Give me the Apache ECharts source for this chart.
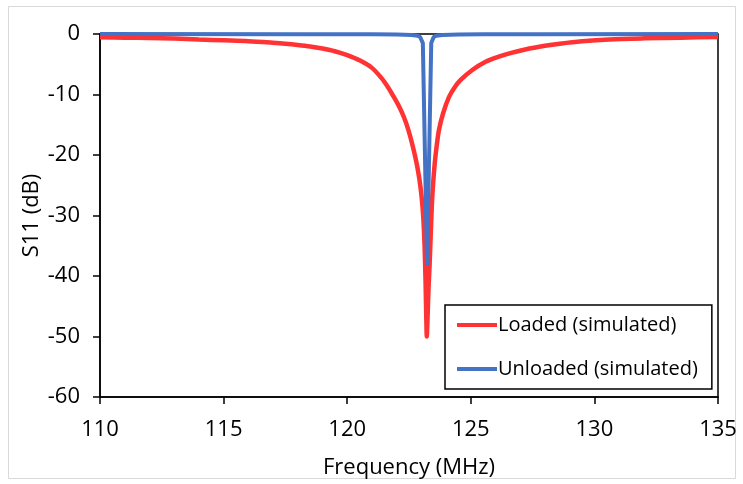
<!DOCTYPE html>
<html>
<head>
<meta charset="utf-8">
<script src="https://cdn.jsdelivr.net/npm/echarts@6/dist/echarts.min.js"></script>
<style>
html,body{margin:0;padding:0;background:#fff;}
#chart{width:743px;height:484px;}
</style>
</head>
<body>
<div id="chart"></div>
<script>
// Loaded (simulated)
const loadedFreq = [110,111,112,113,114,115,116,117,117.5,118,118.5,119,119.5,120,120.52,121,121.39,121.65,121.87,122.1,122.3,122.47,122.65,122.81,122.92,123.01,123.08,123.13,123.17,123.2,123.22,123.25,123.29,123.33,123.38,123.44,123.54,123.62,123.71,123.88,124.12,124.35,124.59,125.06,125.6,126.1,126.6,127.2,128,128.6,129.5,130.6,132,133.5,135];
const loadedS11 = [-0.55,-0.6,-0.65,-0.75,-0.9,-1.05,-1.2,-1.45,-1.6,-1.8,-2.05,-2.4,-2.85,-3.5,-4.4,-5.6,-7.3,-8.8,-10.3,-12.0,-13.8,-15.8,-18.5,-21.4,-24,-26.9,-30.5,-35,-41,-47,-50,-47,-42,-38.5,-33,-27,-21.4,-18.5,-15.9,-13.1,-10.4,-8.8,-7.6,-5.95,-4.6,-3.8,-3.15,-2.55,-1.95,-1.6,-1.2,-0.9,-0.72,-0.6,-0.5];
// Unloaded (simulated)
const unloadedFreq = [110,118,121,122,122.6,122.85,122.95,123.06,123.23,123.40,123.5,123.6,123.85,124.5,125.5,128,135];
const unloadedS11 = [-0.02,-0.03,-0.06,-0.1,-0.15,-0.3,-0.5,-1.5,-38.3,-1.5,-0.5,-0.3,-0.15,-0.1,-0.06,-0.03,-0.02];
const xTicks = {min:110, max:135, interval:5};
const yTicks = {min:-60, max:0, interval:10};
const seriesNames = ['Loaded (simulated)','Unloaded (simulated)'];

const pairs = (xs, ys) => xs.map((x,i)=>[x, ys[i]]);
const FONT = 'Open Sans';
const chart = echarts.init(document.getElementById('chart'), null, {renderer:'canvas'});
chart.setOption({
  animation:false,
  backgroundColor:'#fff',
  textStyle:{fontFamily:FONT},
  graphic:[{type:'rect', shape:{x:8.5,y:6.5,width:727,height:472}, style:{fill:'none', stroke:'#d9d9d9', lineWidth:1}, silent:true, z:-10}],
  grid:{left:100, right:25, top:34, bottom:87, show:true, borderColor:'#000', borderWidth:1.5, backgroundColor:'transparent'},
  legend:{
    orient:'vertical', left:445, top:305,
    data:seriesNames,
    icon:'rect', itemWidth:40, itemHeight:4, itemGap:24,
    padding:[10,14,10,12],
    borderColor:'#000', borderWidth:1.5, backgroundColor:'#fff',
    textStyle:{fontFamily:FONT, fontSize:20, color:'#000', padding:[0,0,0,-4]}
  },
  xAxis:{
    type:'value', min:xTicks.min, max:xTicks.max, interval:xTicks.interval,
    name:'Frequency (MHz)', nameLocation:'middle', nameGap:60, nameMoveOverlap:false,
    nameTextStyle:{fontFamily:FONT, fontSize:22, color:'#000'},
    axisLine:{onZero:false, lineStyle:{color:'#000', width:1.5}},
    axisTick:{show:true, inside:false, length:7, lineStyle:{color:'#000', width:1.5}},
    axisLabel:{fontFamily:FONT, fontSize:22, color:'#000', margin:22},
    splitLine:{show:false}
  },
  yAxis:{
    type:'value', min:yTicks.min, max:yTicks.max, interval:yTicks.interval,
    name:'S11 (dB)', nameLocation:'middle', nameGap:57, nameRotate:90, nameMoveOverlap:false,
    nameTextStyle:{fontFamily:FONT, fontSize:22, color:'#000'},
    axisLine:{onZero:false, lineStyle:{color:'#000', width:1.5}},
    axisTick:{show:true, inside:false, length:7, lineStyle:{color:'#000', width:1.5}},
    axisLabel:{fontFamily:FONT, fontSize:22, color:'#000', margin:20},
    splitLine:{show:false}
  },
  series:[
    {name:seriesNames[0], type:'line', data:pairs(loadedFreq, loadedS11), showSymbol:false, smooth:0.3, z:2,
     lineStyle:{color:'#ff3333', width:4.5}, itemStyle:{color:'#ff3333'}},
    {name:seriesNames[1], type:'line', data:pairs(unloadedFreq, unloadedS11), showSymbol:false, smooth:false, z:3,
     lineStyle:{color:'#4472c4', width:4}, itemStyle:{color:'#4472c4'}}
  ]
});
</script>
</body>
</html>
